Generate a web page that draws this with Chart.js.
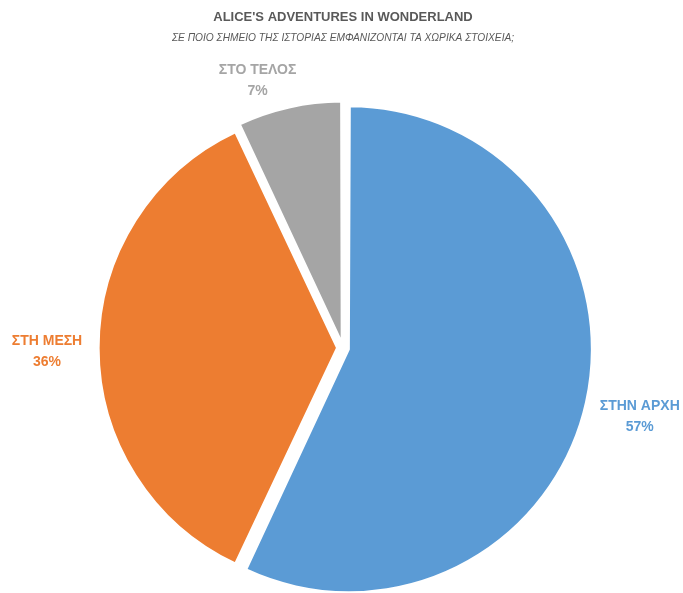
<!DOCTYPE html>
<html>
<head>
<meta charset="utf-8">
<script src="https://cdn.jsdelivr.net/npm/chart.js@4.4.0/dist/chart.umd.min.js"></script>
<style>
  html, body { margin: 0; padding: 0; background: #fff; }
  #wrap { width: 683px; height: 593px; }
</style>
</head>
<body>
<div id="wrap"><canvas id="chart"></canvas></div>
<script>
const chartTitle = "ALICE'S ADVENTURES IN WONDERLAND";
const chartSubtitle = 'ΣΕ ΠΟΙΟ ΣΗΜΕΙΟ ΤΗΣ ΙΣΤΟΡΙΑΣ ΕΜΦΑΝΙΖΟΝΤΑΙ ΤΑ ΧΩΡΙΚΑ ΣΤΟΙΧΕΙΑ;';
const categories = ['ΣΤΗΝ ΑΡΧΗ', 'ΣΤΗ ΜΕΣΗ', 'ΣΤΟ ΤΕΛΟΣ'];
const shares = [57, 36, 7];

const sliceColors = ['#5B9BD5', '#ED7D31', '#A5A5A5'];
const fontFamily = '"Liberation Sans", Arial, sans-serif';

// category + percentage written outside each slice
const outsideLabels = {
  id: 'outsideLabels',
  afterDatasetsDraw(chart, args, opts) {
    const ctx = chart.ctx;
    const meta = chart.getDatasetMeta(0);
    ctx.save();
    ctx.font = opts.font;
    ctx.textAlign = 'center';
    ctx.textBaseline = 'middle';
    meta.data.forEach((arc, i) => {
      const { x, y, startAngle, endAngle } = arc.getProps(['x', 'y', 'startAngle', 'endAngle'], true);
      const mid = (startAngle + endAngle) / 2;
      const shift = opts.shift[i] || [0, 0];
      const lx = x + Math.cos(mid) * opts.distance + shift[0];
      const ly = y + Math.sin(mid) * opts.distance + shift[1];
      ctx.fillStyle = sliceColors[i];
      ctx.fillText(categories[i], lx, ly - opts.lineGap / 2);
      ctx.fillText(shares[i] + '%', lx, ly + opts.lineGap / 2);
    });
    ctx.restore();
  }
};

new Chart(document.getElementById('chart'), {
  type: 'pie',
  data: {
    labels: categories,
    datasets: [{
      data: shares,
      backgroundColor: sliceColors,
      borderColor: '#ffffff',
      borderWidth: 2,
      offset: 24,
      radius: 237,
    }],
  },
  options: {
    responsive: true,
    maintainAspectRatio: false,
    animation: false,
    layout: {
      padding: { left: 3, top: 0, right: 0, bottom: 0 },
    },
    plugins: {
      legend: { display: false },
      tooltip: { enabled: false },
      title: {
        display: true,
        text: chartTitle,
        color: '#595959',
        font: { family: fontFamily, size: 13, weight: 'bold', lineHeight: 1.2 },
        padding: { top: 10, bottom: 4 },
      },
      subtitle: {
        display: true,
        text: chartSubtitle,
        color: '#595959',
        font: { family: fontFamily, size: 10.2, style: 'italic', lineHeight: 1.2 },
        padding: { top: 2, bottom: 59 },
      },
      outsideLabels: {
        font: 'bold 14px ' + fontFamily,
        distance: 300,
        lineGap: 21,
        shift: [[4, 3], [4, 4], [-20, 25]],
      },
    },
  },
  plugins: [outsideLabels],
});
</script>
</body>
</html>
